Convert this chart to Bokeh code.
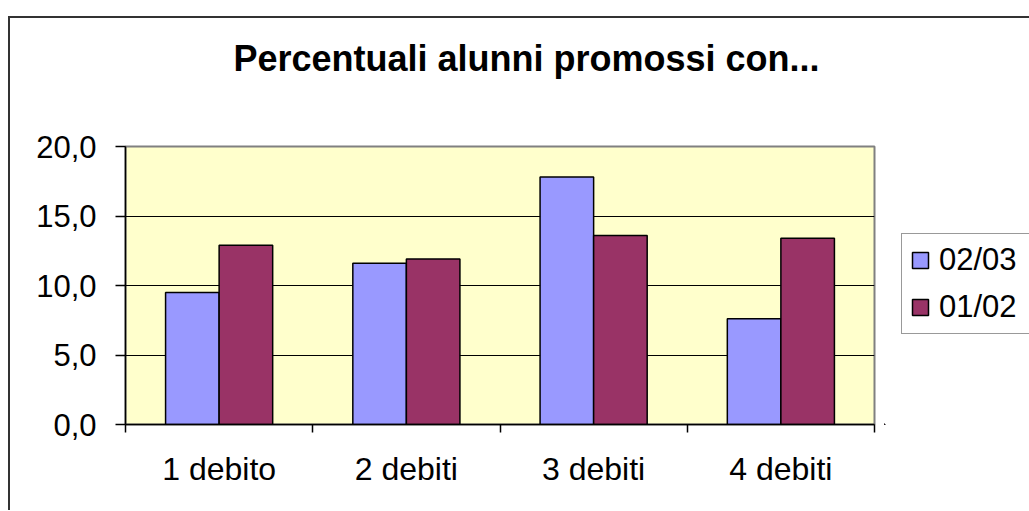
import numpy as np
from bokeh.plotting import figure
from bokeh.layouts import row, column
from bokeh.models import (ColumnDataSource, Range1d, FixedTicker, Legend, LegendItem, Label,
                          CustomJSTickFormatter)
from bokeh.transform import dodge
from bokeh.embed import file_html
from bokeh.resources import INLINE

categories = ["1 debito", "2 debiti", "3 debiti", "4 debiti"]
series_names = ["02/03", "01/02"]
values_0203 = [9.5, 11.6, 17.8, 7.6]
values_0102 = [12.9, 11.9, 13.6, 13.4]
y_ticks = [0, 5, 10, 15, 20]
title_text = "Percentuali alunni promossi con..."

FONT = "Liberation Sans"
COL_A = "#9999FF"
COL_B = "#993366"
centers = np.arange(len(categories)) + 0.5
source = ColumnDataSource(dict(x=centers, a=values_0203, b=values_0102, cat=categories))


def blank(width, height, xr=(0, 1), yr=(0, 1)):
    f = figure(width=width, height=height, output_backend="svg", toolbar_location=None,
               x_axis_location=None, y_axis_location=None, min_border=0,
               x_range=Range1d(*xr), y_range=Range1d(*yr))
    f.grid.visible = False
    f.outline_line_color = None
    f.background_fill_color = "white"
    f.border_fill_color = "white"
    return f


# ---- title strip ----
pt = blank(1019, 100)
pt.add_layout(Label(x=516, y=60, x_units="screen", y_units="screen", text=title_text,
                    text_align="center", text_baseline="alphabetic", text_font=FONT,
                    text_font_style="bold", text_font_size="36px", text_color="black"))

# ---- main chart ----
p = figure(width=874, height=392, output_backend="svg", toolbar_location=None,
           x_range=Range1d(0, len(categories)), y_range=Range1d(0, 20),
           min_border_left=115, min_border_right=10, min_border_top=28, min_border_bottom=86)
p.background_fill_color = "#FFFFCC"
p.border_fill_color = "white"
p.outline_line_color = "#808080"
p.outline_line_width = 2

bw = 0.286
bar_style = dict(line_color="black", line_width=1.5)
r1 = p.vbar(x=dodge("x", -bw / 2, range=p.x_range), top="a", width=bw, source=source,
            fill_color=COL_A, **bar_style)
r2 = p.vbar(x=dodge("x", bw / 2, range=p.x_range), top="b", width=bw, source=source,
            fill_color=COL_B, **bar_style)

p.xaxis.ticker = FixedTicker(ticks=list(centers), minor_ticks=list(range(len(categories) + 1)))
p.xaxis.major_label_overrides = {float(c): cat for c, cat in zip(centers, categories)}
p.xaxis.major_tick_out = 0
p.xaxis.major_tick_in = 0
p.xaxis.minor_tick_out = 8
p.xaxis.minor_tick_in = 0
p.xaxis.minor_tick_line_color = "black"
p.xaxis.minor_tick_line_width = 1.5
p.xaxis.axis_line_color = "black"
p.xaxis.axis_line_width = 1.5
p.xaxis.major_label_text_font = FONT
p.xaxis.major_label_text_font_size = "32px"
p.xaxis.major_label_text_color = "black"
p.xaxis.major_label_standoff = 18

p.yaxis.ticker = FixedTicker(ticks=y_ticks)
p.yaxis.formatter = CustomJSTickFormatter(code="return tick.toFixed(1).replace('.', ',');")
p.yaxis.major_tick_out = 10
p.yaxis.major_tick_in = 0
p.yaxis.minor_tick_line_color = None
p.yaxis.major_tick_line_color = "black"
p.yaxis.major_tick_line_width = 1.5
p.yaxis.axis_line_color = "black"
p.yaxis.axis_line_width = 1.5
p.yaxis.major_label_text_font = FONT
p.yaxis.major_label_text_font_size = "31px"
p.yaxis.major_label_text_color = "black"
p.yaxis.major_label_standoff = 19

p.xgrid.visible = False
p.ygrid.ticker = FixedTicker(ticks=[5, 10, 15])
p.ygrid.grid_line_color = "black"
p.ygrid.grid_line_width = 1

# ---- legend strip (series swatches come from the same data, kept outside its view) ----
pl = blank(145, 392, xr=(100, 101), yr=(100, 101))
k1 = pl.vbar(x="x", top="a", width=bw, source=source, fill_color=COL_A, **bar_style)
k2 = pl.vbar(x="x", top="b", width=bw, source=source, fill_color=COL_B, **bar_style)
legend = Legend(items=[LegendItem(label=series_names[0], renderers=[k1]),
                       LegendItem(label=series_names[1], renderers=[k2])],
                location=(17, 90), orientation="vertical",
                glyph_width=20, glyph_height=20, label_width=90, label_standoff=9,
                spacing=11, padding=8, margin=0,
                label_text_font=FONT, label_text_font_size="31px", label_text_color="black",
                border_line_color="#333333", border_line_width=1,
                background_fill_color="white", background_fill_alpha=1)
pl.add_layout(legend, "center")

layout = column(pt, row(p, pl))
layout.styles = {"border-top": "2px solid #333333", "border-left": "2px solid #333333",
                 "margin-top": "16px", "margin-left": "8px"}

open("out.html", "w").write(file_html(layout, INLINE))
